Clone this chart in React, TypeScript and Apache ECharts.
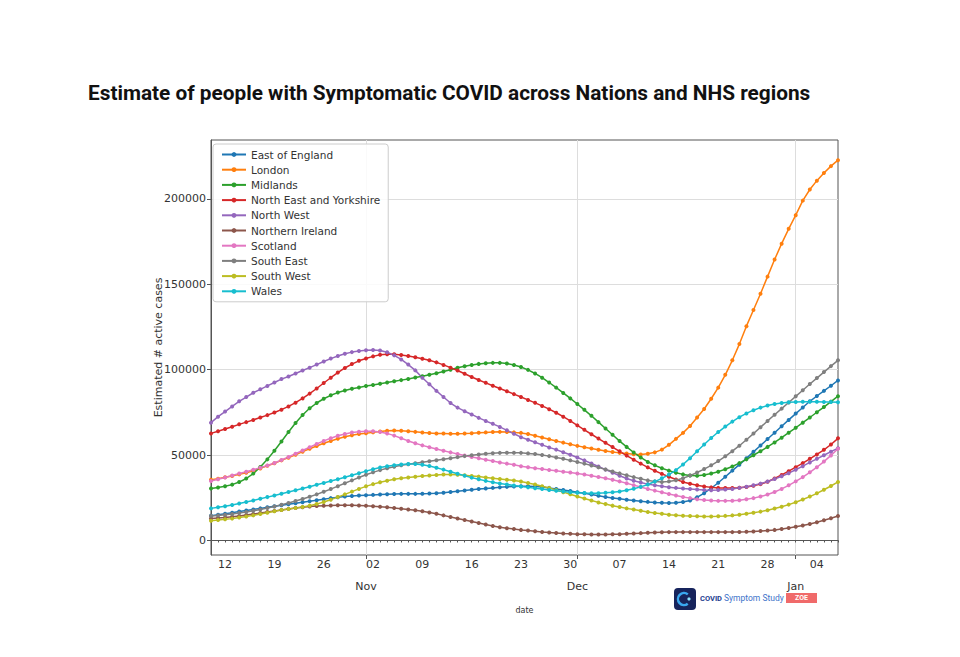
import React, { useEffect, useRef } from "react";
import * as echarts from "echarts";

// Daily dates 2020-10-10 .. 2021-01-07
const START_UTC = Date.UTC(2020, 9, 10);
const DAY_COUNT = 90;
const dates: string[] = [];
for (let i = 0; i < DAY_COUNT; i++) {
  dates.push(new Date(START_UTC + i * 86400000).toISOString().slice(0, 10));
}

const monthNames = ["Jan", "Feb", "Mar", "Apr", "May", "Jun", "Jul", "Aug", "Sep", "Oct", "Nov", "Dec"];
const yTicks = [0, 50000, 100000, 150000, 200000];

const seriesNames = [
  "East of England",
  "London",
  "Midlands",
  "North East and Yorkshire",
  "North West",
  "Northern Ireland",
  "Scotland",
  "South East",
  "South West",
  "Wales",
];
const seriesColors = ["#1f77b4", "#ff7f0e", "#2ca02c", "#d62728", "#9467bd", "#8c564b", "#e377c2", "#7f7f7f", "#bcbd22", "#17becf"];

// values in thousands of active cases, one per day
const eastOfEngland = [
  14.5, 15.1, 15.7, 16.3, 17, 17.6, 18.2, 18.8, 19.4, 20,
  20.6, 21.2, 21.8, 22.4, 23, 23.6, 24.2, 24.8, 25.3, 25.8,
  26.1, 26.3, 26.5, 26.7, 26.9, 27.1, 27.2, 27.3, 27.3, 27.3,
  27.4, 27.5, 27.7, 28, 28.4, 28.8, 29.3, 29.7, 30.1, 30.5,
  30.8, 31.1, 31.4, 31.6, 31.8, 31.8, 31.6, 31.3, 30.8, 30.2,
  29.6, 29, 28.3, 27.6, 26.9, 26.2, 25.5, 24.9, 24.4, 23.9,
  23.4, 23, 22.6, 22.3, 22.1, 22, 22.1, 22.5, 23.4, 25.3,
  27.7, 30.6, 33.8, 37.3, 40.9, 44.4, 48.1, 51.9, 55.6, 59.4,
  63.1, 66.9, 70.6, 74.3, 77.9, 81.5, 84.6, 87.6, 90.6, 93.7,
];
const london = [
  35.5, 36.2, 37, 37.8, 38.7, 39.6, 40.8, 42.2, 43.7, 45.2,
  46.9, 48.5, 50.2, 52, 53.7, 55.3, 56.9, 58.3, 59.6, 60.7,
  61.6, 62.3, 62.8, 63.3, 63.8, 64.2, 64.4, 64.3, 64, 63.6,
  63.2, 62.9, 62.7, 62.6, 62.5, 62.5, 62.6, 62.8, 63.1, 63.3,
  63.5, 63.6, 63.5, 63.3, 63, 62.3, 61.3, 60.3, 59.3, 58.3,
  57.3, 56.3, 55.4, 54.6, 53.8, 53.1, 52.4, 51.8, 51.3, 50.9,
  50.5, 50.4, 50.8, 51.6, 53.2, 56, 59.5, 63, 67, 72,
  77, 83, 89.5, 97, 105.5, 115, 125.5, 135, 144.5, 154.5,
  164.5, 173.8, 182.5, 190.5, 199, 205.5, 210.7, 215.2, 219.2, 222.7,
];
const midlands = [
  30.5, 31, 31.7, 32.7, 34.2, 36.3, 39.2, 43, 47.5, 52.5,
  58, 63.5, 68.8, 73.5, 77.4, 80.5, 83, 85, 86.6, 87.8,
  88.8, 89.6, 90.4, 91.1, 91.8, 92.5, 93.2, 93.9, 94.6, 95.4,
  96.2, 97, 97.9, 98.9, 100, 101.1, 102, 102.8, 103.4, 103.8,
  104, 104, 103.6, 102.8, 101.6, 99.9, 97.8, 95.3, 92.5, 89.5,
  86.4, 83.2, 79.9, 76.5, 73, 69.3, 65.6, 61.9, 58.2, 54.8,
  51.5, 48.6, 46, 44, 42.3, 40.9, 39.7, 38.7, 38.1, 37.9,
  38.3, 39.2, 40.3, 41.7, 43.3, 45.3, 47.5, 49.9, 52.3, 54.8,
  57.4, 60.2, 63.1, 66, 69, 72, 75.1, 78.1, 81.3, 84.5,
];
const northEastYorkshire = [
  62.7, 64, 65.3, 66.6, 68, 69.3, 70.6, 72, 73.4, 74.9,
  76.6, 78.5, 80.7, 83.2, 86, 89, 92.2, 95.3, 98.3, 101,
  103.3, 105.2, 106.6, 107.8, 108.7, 109.1, 109, 108.6, 108, 107.3,
  106.4, 105.5, 104.3, 102.8, 101.2, 99.5, 97.6, 95.7, 94, 92.3,
  90.6, 89, 87.4, 85.7, 84, 82.3, 80.6, 78.8, 76.9, 74.8,
  72.5, 70, 67.4, 64.8, 62.2, 59.7, 57.2, 54.7, 52.2, 49.7,
  47.3, 45, 42.8, 40.8, 39, 37.3, 35.7, 34.3, 33.2, 32.3,
  31.6, 31.1, 30.8, 30.7, 30.7, 30.9, 31.3, 32, 33, 34.4,
  36.3, 38.4, 40.6, 42.9, 45.3, 47.8, 50.4, 53.1, 56.2, 59.8,
];
const northWest = [
  69, 72.5, 75.5, 78.5, 81.5, 84, 86.5, 88.5, 90.5, 92.5,
  94.5, 96, 97.8, 99.5, 101.2, 103, 104.8, 106.5, 108, 109.3,
  110.3, 111, 111.4, 111.5, 111.2, 110.2, 108.4, 106, 103, 99.6,
  95.3, 91.5, 87.6, 84, 80.5, 77.8, 75.7, 73.8, 71.8, 70,
  68.3, 66.5, 64.5, 62.5, 60.5, 59, 57.5, 56, 54.5, 53.2,
  51.7, 50.2, 48.6, 46.9, 45.1, 43.3, 41.5, 39.7, 37.9, 36.3,
  35, 33.9, 33, 32.3, 31.7, 31.2, 30.8, 30.4, 30.1, 29.8,
  29.5, 29.4, 29.5, 29.8, 30.2, 30.8, 31.5, 32.3, 33.3, 34.5,
  36, 37.6, 39.4, 41.4, 43.5, 45.7, 47.8, 49.9, 52, 54,
];
const northernIreland = [
  12.9, 13.2, 13.5, 13.9, 14.4, 14.9, 15.5, 16.1, 16.7, 17.3,
  17.9, 18.5, 19, 19.5, 19.9, 20.2, 20.4, 20.5, 20.6, 20.6,
  20.6, 20.5, 20.3, 20.1, 19.8, 19.4, 19, 18.6, 18.2, 17.7,
  17.1, 16.4, 15.6, 14.7, 13.8, 12.9, 12, 11.1, 10.2, 9.3,
  8.5, 7.8, 7.2, 6.7, 6.2, 5.8, 5.4, 5, 4.7, 4.4,
  4.1, 3.9, 3.7, 3.6, 3.5, 3.5, 3.5, 3.6, 3.7, 3.9,
  4.1, 4.3, 4.5, 4.7, 4.8, 4.9, 4.9, 4.9, 4.9, 4.9,
  4.9, 4.9, 4.9, 4.9, 4.9, 5, 5.1, 5.3, 5.5, 5.8,
  6.2, 6.7, 7.3, 8, 8.8, 9.7, 10.7, 11.8, 13, 14.3,
];
const scotland = [
  34.8, 35.8, 36.9, 38, 39.2, 40.3, 41.4, 42.6, 43.9, 45.4,
  47.1, 48.9, 50.8, 52.7, 54.6, 56.5, 58.3, 59.9, 61.3, 62.4,
  63.2, 63.7, 63.9, 63.9, 63.5, 62.7, 61.4, 59.9, 58.3, 56.9,
  55.7, 54.6, 53.6, 52.6, 51.6, 50.6, 49.7, 48.9, 48.1, 47.3,
  46.5, 45.7, 45, 44.3, 43.5, 42.9, 42.3, 41.8, 41.3, 40.8,
  40.3, 39.8, 39.2, 38.6, 37.9, 37.2, 36.4, 35.5, 34.6, 33.5,
  32.4, 31.3, 30.2, 29.2, 28.2, 27.2, 26.3, 25.5, 24.8, 24.2,
  23.7, 23.4, 23.2, 23.2, 23.3, 23.6, 24.1, 24.8, 25.7, 26.9,
  28.4, 30.2, 32.3, 34.6, 37.1, 39.9, 42.9, 46.2, 49.8, 53.7,
];
const southEast = [
  14.4, 14.7, 15.1, 15.5, 16.1, 16.7, 17.4, 18.2, 19, 19.9,
  20.9, 22, 23.1, 24.3, 25.6, 27, 28.5, 30.1, 31.8, 33.5,
  35.2, 36.9, 38.5, 39.9, 41.2, 42.3, 43.2, 44, 44.6, 45.2,
  45.8, 46.4, 47, 47.6, 48.2, 48.8, 49.4, 49.9, 50.4, 50.8,
  51.1, 51.3, 51.4, 51.4, 51.3, 51, 50.6, 50.1, 49.4, 48.6,
  47.8, 46.9, 46, 45, 43.9, 42.8, 41.6, 40.4, 39.3, 38.2,
  37.1, 36.1, 35.2, 34.6, 34.3, 34.6, 35.3, 36.4, 38, 39.8,
  41.8, 44, 46.5, 49.3, 52.3, 55.5, 59, 62.6, 66.3, 70,
  73.6, 77.2, 80.8, 84.4, 88, 91.6, 95.1, 98.6, 102.1, 105.5,
];
const southWest = [
  11.6, 12, 12.4, 12.8, 13.4, 14, 14.7, 15.5, 16.3, 17.1,
  17.8, 18.4, 19, 19.6, 20.4, 21.3, 22.5, 23.9, 25.4, 27,
  28.6, 30.2, 31.7, 33, 34.1, 35, 35.8, 36.4, 36.9, 37.3,
  37.7, 38.1, 38.4, 38.6, 38.6, 38.5, 38.2, 37.8, 37.4, 36.9,
  36.4, 36, 35.6, 35.1, 34.5, 33.7, 32.8, 31.8, 30.7, 29.5,
  28.3, 27.1, 25.8, 24.6, 23.4, 22.3, 21.3, 20.4, 19.6, 18.8,
  18.1, 17.4, 16.7, 16.1, 15.6, 15.1, 14.8, 14.5, 14.3, 14.2,
  14.1, 14.1, 14.2, 14.4, 14.7, 15.1, 15.6, 16.2, 16.9, 17.7,
  18.7, 19.8, 21, 22.4, 24, 25.7, 27.6, 29.7, 31.9, 34.3,
];
const wales = [
  18.8, 19.4, 20.1, 20.8, 21.6, 22.5, 23.4, 24.4, 25.4, 26.4,
  27.4, 28.4, 29.4, 30.4, 31.5, 32.6, 33.7, 34.8, 35.9, 37,
  38.2, 39.4, 40.6, 41.7, 42.7, 43.5, 44.1, 44.5, 44.8, 44.8,
  44.4, 43.6, 42.6, 41.5, 40.3, 39.1, 37.9, 36.8, 35.8, 34.9,
  34.1, 33.4, 32.8, 32.2, 31.6, 31.1, 30.6, 30.1, 29.6, 29.1,
  28.7, 28.3, 28, 27.8, 27.7, 27.7, 27.9, 28.2, 28.7, 29.4,
  30.3, 31.4, 32.8, 34.5, 36.4, 38.6, 41.2, 44.5, 48.2, 52.2,
  56.2, 60, 63.5, 66.7, 69.6, 72.2, 74.4, 76.3, 77.8, 79,
  79.9, 80.5, 80.9, 81.1, 81.2, 81.2, 81.2, 81.1, 81.1, 81,
];

const seriesValues = [eastOfEngland, london, midlands, northEastYorkshire, northWest, northernIreland, scotland, southEast, southWest, wales];

const isMonday = (i: number) => new Date(dates[i] + "T00:00:00Z").getUTCDay() === 1;
const isMonthStart = (i: number) => dates[i].slice(8, 10) === "01";

export default function App() {
  const ref = useRef<HTMLDivElement>(null);
  useEffect(() => {
    if (!ref.current) return;
    const chart = echarts.init(ref.current, null, { renderer: "svg" });
    const font = "DejaVu Sans";
    const option: any = {
      animation: false,
      backgroundColor: "#ffffff",
      textStyle: { fontFamily: font },
      title: {
        text: "Estimate of people with Symptomatic COVID across Nations and NHS regions",
        left: 88,
        top: 82,
        padding: 0,
        textStyle: { fontFamily: "Roboto", fontWeight: "bold", fontSize: 20.8, color: "#111111" },
      },
      grid: { left: 211, right: 122, top: 140, bottom: 102, show: true, borderColor: "#555555", borderWidth: 1, backgroundColor: "transparent" },
      legend: {
        orient: "vertical",
        left: 213,
        top: 144,
        padding: [5, 8, 5, 8],
        itemWidth: 24,
        itemHeight: 6,
        itemGap: 4.2,
        data: seriesNames,
        backgroundColor: "rgba(255,255,255,0.85)",
        borderColor: "#cccccc",
        borderWidth: 1,
        borderRadius: 3,
        textStyle: { fontSize: 10.5, color: "#333333", fontFamily: font },
      },
      xAxis: [
        {
          type: "category",
          data: dates,
          boundaryGap: false,
          axisLine: { lineStyle: { color: "#555555" } },
          axisTick: { interval: 0, length: 2, lineStyle: { color: "#555555" } },
          axisLabel: {
            interval: (i: number) => isMonday(i),
            formatter: (v: string) => v.slice(8, 10),
            fontSize: 11,
            color: "#333333",
            margin: 4,
          },
          splitLine: { show: false },
          name: "date",
          nameLocation: "middle",
          nameGap: 51,
          nameMoveOverlap: false,
          nameTextStyle: { fontSize: 8, color: "#333333" },
        },
        {
          type: "category",
          data: dates,
          boundaryGap: false,
          position: "bottom",
          axisLine: { show: false },
          axisTick: { interval: (i: number) => isMonthStart(i), length: 4, lineStyle: { color: "#555555" } },
          axisLabel: {
            interval: (i: number) => isMonthStart(i),
            formatter: (v: string) => monthNames[parseInt(v.slice(5, 7), 10) - 1],
            fontSize: 11,
            color: "#333333",
            margin: 26,
          },
          splitLine: { show: true, interval: (i: number) => isMonthStart(i), lineStyle: { color: "#dddddd", width: 1 } },
        },
      ],
      yAxis: {
        type: "value",
        min: -8500,
        max: 234500,
        axisLine: { show: true, lineStyle: { color: "#555555" } },
        axisTick: { show: true, customValues: yTicks, length: 4, lineStyle: { color: "#555555" } },
        axisLabel: { customValues: yTicks, fontSize: 11, color: "#333333", margin: 5, formatter: (v: number) => String(v) },
        splitLine: { show: true, lineStyle: { color: "#dddddd", width: 1 } },
        name: "Estimated # active cases",
        nameLocation: "middle",
        nameGap: 47,
        nameMoveOverlap: false,
        nameTextStyle: { fontSize: 11, color: "#333333" },
      },
      series: seriesNames.map((name, k) => ({
        name,
        type: "line",
        xAxisIndex: 0,
        data: seriesValues[k].map((v) => Math.round(v * 1000)),
        symbol: "circle",
        symbolSize: 4,
        showSymbol: true,
        showAllSymbol: true,
        lineStyle: { width: 1.5, color: seriesColors[k] },
        itemStyle: { color: seriesColors[k] },
        emphasis: { disabled: true },
      })),
      graphic: [
        { type: "rect", shape: { x: 674, y: 588, width: 22, height: 22, r: 4 }, style: { fill: "#17245c" } },
        { type: "arc", shape: { cx: 684, cy: 599, r: 6, startAngle: 0.9, endAngle: 5.4 }, style: { stroke: "#3aa8f0", lineWidth: 2.5, fill: "none" } },
        { type: "circle", shape: { cx: 689, cy: 599, r: 1.6 }, style: { fill: "#8fe3ff" } },
        { type: "text", x: 700, y: 598, style: { text: "COVID", fontSize: 7.5, fontWeight: "bold", fill: "#1d3d8f", verticalAlign: "middle", fontFamily: "Roboto" } },
        { type: "text", x: 724, y: 598, style: { text: "Symptom Study", fontSize: 8.5, fill: "#3d72c9", verticalAlign: "middle", fontFamily: "Roboto" } },
        { type: "rect", shape: { x: 786, y: 593, width: 31, height: 10 }, style: { fill: "#f06a6a" } },
        { type: "text", x: 801.5, y: 598, style: { text: "ZOE", fontSize: 7, fontWeight: "bold", fill: "#ffffff", align: "center", verticalAlign: "middle", fontFamily: "Roboto" } },
      ],
    };
    chart.setOption(option);
    return () => chart.dispose();
  }, []);
  return <div ref={ref} style={{ position: "fixed", left: 0, top: 0, width: 960, height: 657, background: "#ffffff" }} />;
}
